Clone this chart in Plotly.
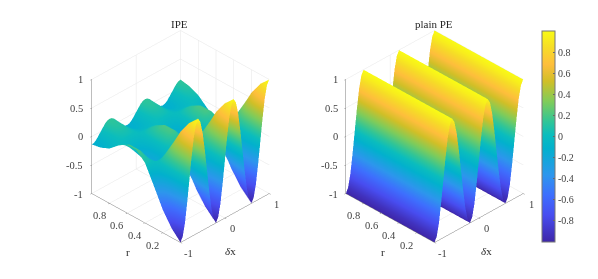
import plotly.graph_objects as go

dx_vals = [-1.0,-0.95,-0.9,-0.85,-0.8,-0.75,-0.7,-0.65,-0.6,-0.55,-0.5,-0.45,-0.4,-0.35,-0.3,-0.25,-0.2,-0.15,-0.1,-0.05,0.0,
           0.05,0.1,0.15,0.2,0.25,0.3,0.35,0.4,0.45,0.5,0.55,0.6,0.65,0.7,0.75,0.8,0.85,0.9,0.95,1.0]
r_vals = [0.0,0.1,0.2,0.3,0.4,0.5,0.6,0.7,0.8,0.9,1.0]
r_edges = [0.0,1.0]

pe_profile = [-1,-.92,-.71,-.38,0,.38,.71,.92,1,.92,.71,.38,0,-.38,-.71,-.92,-1,-.92,-.71,-.38,0,.38,.71,.92,1,.92,.71,.38,0,-.38,-.71,-.92,-1,-.92,-.71,-.38,0,.38,.71,.92,1]

ipe_r00 = [-1,-.92,-.71,-.38,0,.38,.71,.92,1,.92,.71,.38,0,-.38,-.71,-.92,-1,-.92,-.71,-.38,0,.38,.71,.92,1,.92,.71,.38,0,-.38,-.71,-.92,-1,-.92,-.71,-.38,0,.38,.71,.92,1]
ipe_r01 = [-.84,-.77,-.6,-.32,0,.32,.6,.77,.84,.77,.6,.32,0,-.32,-.6,-.77,-.84,-.77,-.6,-.32,0,.32,.6,.77,.84,.77,.6,.32,0,-.32,-.6,-.77,-.84,-.77,-.6,-.32,0,.32,.6,.77,.84]
ipe_r02 = [-.6,-.55,-.43,-.23,0,.23,.43,.55,.6,.55,.43,.23,0,-.23,-.43,-.55,-.6,-.55,-.43,-.23,0,.23,.43,.55,.6,.55,.43,.23,0,-.23,-.43,-.55,-.6,-.55,-.43,-.23,0,.23,.43,.55,.6]
ipe_r03 = [-.27,-.25,-.19,-.1,0,.1,.19,.25,.27,.25,.19,.1,0,-.1,-.19,-.25,-.27,-.25,-.19,-.1,0,.1,.19,.25,.27,.25,.19,.1,0,-.1,-.19,-.25,-.27,-.25,-.19,-.1,0,.1,.19,.25,.27]
ipe_r04 = [.05,.05,.04,.02,0,-.02,-.04,-.05,-.05,-.05,-.04,-.02,0,.02,.04,.05,.05,.05,.04,.02,0,-.02,-.04,-.05,-.05,-.05,-.04,-.02,0,.02,.04,.05,.05,.05,.04,.02,0,-.02,-.04,-.05,-.05]
ipe_r05 = [.2,.18,.14,.08,0,-.08,-.14,-.18,-.2,-.18,-.14,-.08,0,.08,.14,.18,.2,.18,.14,.08,0,-.08,-.14,-.18,-.2,-.18,-.14,-.08,0,.08,.14,.18,.2,.18,.14,.08,0,-.08,-.14,-.18,-.2]
ipe_r06 = [.2,.18,.14,.08,0,-.08,-.14,-.18,-.2,-.18,-.14,-.08,0,.08,.14,.18,.2,.18,.14,.08,0,-.08,-.14,-.18,-.2,-.18,-.14,-.08,0,.08,.14,.18,.2,.18,.14,.08,0,-.08,-.14,-.18,-.2]
ipe_r07 = [.1,.09,.07,.04,0,-.04,-.07,-.09,-.1,-.09,-.07,-.04,0,.04,.07,.09,.1,.09,.07,.04,0,-.04,-.07,-.09,-.1,-.09,-.07,-.04,0,.04,.07,.09,.1,.09,.07,.04,0,-.04,-.07,-.09,-.1]
ipe_r08 = [-.04,-.04,-.03,-.02,0,.02,.03,.04,.04,.04,.03,.02,0,-.02,-.03,-.04,-.04,-.04,-.03,-.02,0,.02,.03,.04,.04,.04,.03,.02,0,-.02,-.03,-.04,-.04,-.04,-.03,-.02,0,.02,.03,.04,.04]
ipe_r09 = [-.11,-.1,-.08,-.04,0,.04,.08,.1,.11,.1,.08,.04,0,-.04,-.08,-.1,-.11,-.1,-.08,-.04,0,.04,.08,.1,.11,.1,.08,.04,0,-.04,-.08,-.1,-.11,-.1,-.08,-.04,0,.04,.08,.1,.11]
ipe_r10 = [-.14,-.13,-.1,-.05,0,.05,.1,.13,.14,.13,.1,.05,0,-.05,-.1,-.13,-.14,-.13,-.1,-.05,0,.05,.1,.13,.14,.13,.1,.05,0,-.05,-.1,-.13,-.14,-.13,-.1,-.05,0,.05,.1,.13,.14]
ipe_table = [ipe_r00,ipe_r01,ipe_r02,ipe_r03,ipe_r04,ipe_r05,ipe_r06,ipe_r07,ipe_r08,ipe_r09,ipe_r10]

z_ticks = [-1,-0.5,0,0.5,1]
r_ticks = [0.2,0.4,0.6,0.8]
dx_ticks = [-1,0,1]
cb_ticks = [-0.8,-0.6,-0.4,-0.2,0,0.2,0.4,0.6,0.8]

FONT = "Liberation Serif"
TXT = "#404040"
DARK = "#262626"
parula = [[0,"rgb(62,38,168)"],[0.127,"rgb(72,77,240)"],[0.222,"rgb(62,111,254)"],[0.317,"rgb(45,150,237)"],
          [0.444,"rgb(2,177,205)"],[0.508,"rgb(11,189,189)"],[0.571,"rgb(49,197,151)"],[0.667,"rgb(129,204,89)"],
          [0.762,"rgb(209,191,39)"],[0.841,"rgb(254,190,60)"],[0.921,"rgb(246,220,39)"],[1,"rgb(249,251,21)"]]
flat = dict(ambient=1, diffuse=0, specular=0, fresnel=0, roughness=1)

fig = go.Figure()
fig.add_trace(go.Surface(x=dx_vals, y=r_vals, z=ipe_table, colorscale=parula, cmin=-1, cmax=1,
                         lighting=flat, showscale=False, hoverinfo="skip", scene="scene"))
fig.add_trace(go.Surface(x=dx_vals, y=r_edges, z=[pe_profile, pe_profile], colorscale=parula, cmin=-1, cmax=1,
                         lighting=flat, hoverinfo="skip", scene="scene2",
                         colorbar=dict(x=542/598, xanchor="left", y=1-136.5/279, yanchor="middle", xpad=0, ypad=0,
                                       len=211/279, lenmode="fraction", thickness=13, thicknessmode="pixels",
                                       tickvals=cb_ticks, ticktext=[f"{v:g}" for v in cb_ticks],
                                       ticks="inside", ticklen=2, tickcolor="#666", outlinecolor="#777", outlinewidth=1,
                                       tickfont=dict(family=FONT, size=10, color=TXT))))

def axis(rng, ticks):
    return dict(range=rng, tickvals=ticks, showticklabels=False, title=dict(text=""),
                showbackground=False, showgrid=True, gridcolor="#e6e6e6", gridwidth=1,
                showline=True, linecolor="#7a7a7a", linewidth=1, zeroline=False, showspikes=False,
                ticks="outside", ticklen=2, tickcolor="#7a7a7a")

cam = dict(eye=dict(x=-1.226, y=-1.226, z=1.148), center=dict(x=0, y=0, z=0), up=dict(x=0, y=0, z=1),
           projection=dict(type="orthographic"))

def tick_note(x, y, z, v, anchor, sx, sy):
    return dict(x=x, y=y, z=z, text=f"{v:g}", showarrow=False, xanchor=anchor, yanchor="middle",
                xshift=sx, yshift=sy, font=dict(family=FONT, size=10.5, color=TXT))

tick_notes = ([tick_note(-1, 1, v, v, "right", -6, 0) for v in z_ticks]
              + [tick_note(-1, v, -1, v, "center", -10, -12) for v in r_ticks]
              + [tick_note(v, 0, -1, v, "center", 8, -10) for v in dx_ticks])

def scene(cx):
    return dict(domain=dict(x=[cx-0.25, cx+0.25], y=[0.059, 0.959]),
                xaxis=axis([-1,1], dx_ticks), yaxis=axis([0,1], r_ticks), zaxis=axis([-1,1], z_ticks),
                aspectmode="manual", aspectratio=dict(x=1, y=1, z=1.09), camera=cam,
                annotations=tick_notes)

def label(x, y, text, color=DARK, size=11):
    return dict(x=x/598, y=1-y/279, xref="paper", yref="paper", text=text, showarrow=False,
                xanchor="center", yanchor="middle", font=dict(family=FONT, size=size, color=color))

fig.update_layout(width=598, height=279, margin=dict(l=0, r=0, t=0, b=0, autoexpand=False), paper_bgcolor="white",
                  scene=scene(180/598), scene2=scene(434.5/598),
                  annotations=[label(179,24,"IPE"), label(434,24,"plain PE"),
                               label(128,252,"r"), label(230,251,"<i>δ</i>x"),
                               label(383,252,"r"), label(486,251,"<i>δ</i>x")])
fig.write_html("out.html", config=dict(displayModeBar=False), post_script="document.body.style.margin='0';")
